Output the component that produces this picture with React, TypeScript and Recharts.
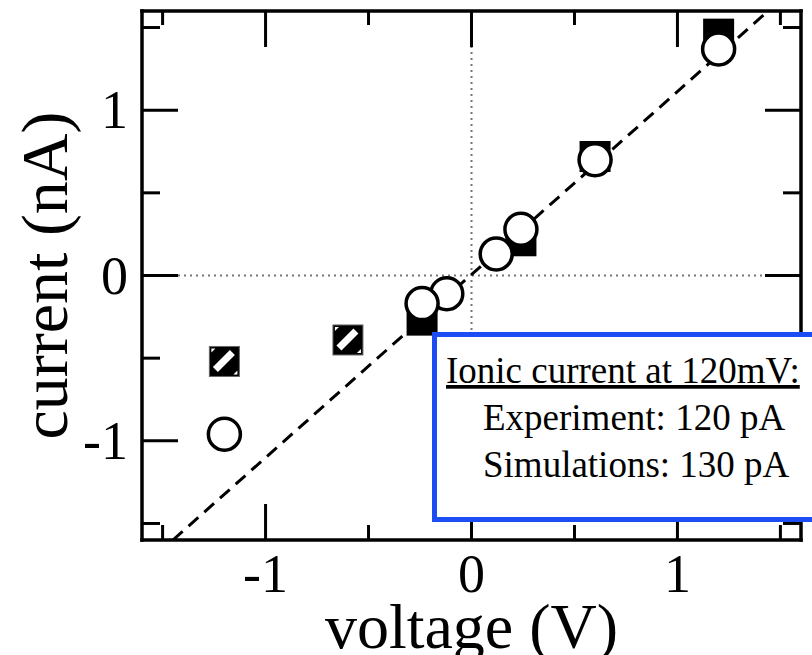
import React from "react";
import { ScatterChart, Scatter, XAxis, YAxis, ReferenceLine } from "recharts";

const FONT = '"Liberation Serif", "Times New Roman", serif';

const xTicks = [-1.5, -1, -0.5, 0, 0.5, 1, 1.5];
const yTicks = [-1.5, -1, -0.5, 0, 0.5, 1, 1.5];
const majorTicks = [-1, 0, 1];

// simulations (open circles)
const simVoltage = [1.2, 0.6, 0.24, 0.12, -0.12, -0.24, -1.2];
const simCurrent = [1.37, 0.7, 0.28, 0.13, -0.11, -0.17, -0.96];

// experiment (filled squares)
const expVoltage = [1.2, 0.6, 0.24, -0.24];
const expCurrent = [1.46, 0.72, 0.21, -0.27];

// hatched squares
const hatchVoltage = [-1.2, -0.6];
const hatchCurrent = [-0.52, -0.39];

// dashed linear fit
const fitVoltage = [-1.45, 1.44];
const fitCurrent = [-1.6, 1.6];

const toPoints = (vs: number[], cs: number[]) => vs.map((v, i) => ({ v, c: cs[i] }));

const simData = toPoints(simVoltage, simCurrent);
const expData = toPoints(expVoltage, expCurrent);
const hatchData = toPoints(hatchVoltage, hatchCurrent);
const fitData = toPoints(fitVoltage, fitCurrent);

const isMajor = (v: number) => majorTicks.includes(v);

const BottomTick = ({ x, y, payload }: any) => {
  const len = isMajor(payload.value) ? 36 : 15;
  return (
    <g>
      <line x1={x} y1={y} x2={x} y2={y - len} stroke="#000" strokeWidth={3} />
      {isMajor(payload.value) && (
        <text x={x} y={y + 52} textAnchor="middle" fontSize={54} fontFamily={FONT} fill="#000">
          {payload.value}
        </text>
      )}
    </g>
  );
};

const TopTick = ({ x, y, payload }: any) => {
  const len = isMajor(payload.value) ? 36 : 14;
  return <line x1={x} y1={y} x2={x} y2={y + len} stroke="#000" strokeWidth={3} />;
};

const LeftTick = ({ x, y, payload }: any) => {
  const len = isMajor(payload.value) ? 36 : 18;
  return (
    <g>
      <line x1={x} y1={y} x2={x + len} y2={y} stroke="#000" strokeWidth={3} />
      {isMajor(payload.value) && (
        <text x={x - 14} y={y + 18} textAnchor="end" fontSize={54} fontFamily={FONT} fill="#000">
          {payload.value}
        </text>
      )}
    </g>
  );
};

const RightTick = ({ x, y, payload }: any) => {
  const len = isMajor(payload.value) ? 36 : 18;
  return <line x1={x} y1={y} x2={x - len} y2={y} stroke="#000" strokeWidth={3} />;
};

const Circle = ({ cx, cy }: any) => (
  <circle cx={cx} cy={cy} r={16} fill="#fff" stroke="#000" strokeWidth={3.5} />
);

const FilledSquare = ({ cx, cy }: any) => (
  <rect x={cx - 15.5} y={cy - 15.5} width={31} height={31} fill="#000" />
);

const HatchSquare = ({ cx, cy }: any) => (
  <g>
    <rect x={cx - 15} y={cy - 15} width={30} height={30} fill="#000" stroke="#666" strokeWidth={1} />
    <line x1={cx - 9} y1={cy + 8} x2={cx + 8} y2={cy - 9} stroke="#fff" strokeWidth={7} />
    <polygon points={`${cx - 13},${cy - 13} ${cx - 9},${cy - 13} ${cx - 13},${cy - 9}`} fill="#fff" />
    <polygon points={`${cx + 13},${cy + 13} ${cx + 9},${cy + 13} ${cx + 13},${cy + 9}`} fill="#fff" />
  </g>
);

const XTitle = ({ viewBox }: any) => (
  <text
    x={viewBox.x + viewBox.width / 2}
    y={viewBox.y + viewBox.height - 7}
    textAnchor="middle"
    fontSize={64}
    fontFamily={FONT}
    fill="#000"
  >
    voltage (V)
  </text>
);

const YTitle = ({ viewBox }: any) => {
  const cx = 67;
  const cy = viewBox.y + viewBox.height / 2;
  return (
    <text
      x={cx}
      y={cy}
      transform={`rotate(-90 ${cx} ${cy})`}
      textAnchor="middle"
      fontSize={66}
      fontFamily={FONT}
      fill="#000"
    >
      current (nA)
    </text>
  );
};

const axisLine = { stroke: "#000", strokeWidth: 3.5, strokeLinecap: "square" as const };

export default function App() {
  return (
    <div style={{ position: "relative", width: 812, height: 655, overflow: "hidden", background: "#fff" }}>
      <style>{"body{margin:0}"}</style>
      <ScatterChart width={812} height={655} margin={{ top: 10, right: 10, bottom: 0, left: 0 }}>
        <XAxis
          xAxisId="b"
          type="number"
          dataKey="v"
          domain={[-1.6, 1.6]}
          allowDataOverflow
          ticks={xTicks}
          interval={0}
          tickLine={false}
          tickSize={0}
          tickMargin={0}
          tick={BottomTick}
          axisLine={axisLine}
          height={115}
          label={XTitle}
        />
        <XAxis
          xAxisId="t"
          orientation="top"
          type="number"
          dataKey="v"
          domain={[-1.6, 1.6]}
          allowDataOverflow
          ticks={xTicks}
          interval={0}
          tickLine={false}
          tickSize={0}
          tickMargin={0}
          tick={TopTick}
          axisLine={axisLine}
          height={1}
        />
        <YAxis
          yAxisId="l"
          type="number"
          dataKey="c"
          domain={[-1.6, 1.6]}
          allowDataOverflow
          ticks={yTicks}
          interval={0}
          tickLine={false}
          tickSize={0}
          tickMargin={0}
          tick={LeftTick}
          axisLine={axisLine}
          width={142}
          label={YTitle}
        />
        <YAxis
          yAxisId="r"
          orientation="right"
          type="number"
          dataKey="c"
          domain={[-1.6, 1.6]}
          allowDataOverflow
          ticks={yTicks}
          interval={0}
          tickLine={false}
          tickSize={0}
          tickMargin={0}
          tick={RightTick}
          axisLine={axisLine}
          width={1}
        />
        <ReferenceLine xAxisId="b" yAxisId="l" x={0} stroke="#777" strokeWidth={2} strokeDasharray="2 4" />
        <ReferenceLine xAxisId="b" yAxisId="l" y={0} stroke="#777" strokeWidth={2} strokeDasharray="2 4" />
        <Scatter
          xAxisId="b"
          yAxisId="l"
          data={fitData}
          line={{ stroke: "#000", strokeWidth: 3, strokeDasharray: "13 8" }}
          shape={() => <g />}
          isAnimationActive={false}
        />
        <Scatter xAxisId="b" yAxisId="l" data={expData} shape={FilledSquare} isAnimationActive={false} />
        <Scatter xAxisId="b" yAxisId="l" data={hatchData} shape={HatchSquare} isAnimationActive={false} />
        <Scatter xAxisId="b" yAxisId="l" data={simData} shape={Circle} isAnimationActive={false} />
      </ScatterChart>
      <svg
        width={812}
        height={655}
        style={{ position: "absolute", left: 0, top: 0, pointerEvents: "none" }}
      >
        <rect x={434.5} y={334.5} width={400} height={185} fill="#fff" stroke="#1c4cf4" strokeWidth={5} />
        <text x={446} y={383} fontSize={37} fontFamily={FONT} fill="#000" textDecoration="underline">
          Ionic current at 120mV:
        </text>
        <text x={483} y={430} fontSize={37} fontFamily={FONT} fill="#000">
          Experiment: 120 pA
        </text>
        <text x={483} y={477} fontSize={37} fontFamily={FONT} fill="#000">
          Simulations: 130 pA
        </text>
      </svg>
    </div>
  );
}
